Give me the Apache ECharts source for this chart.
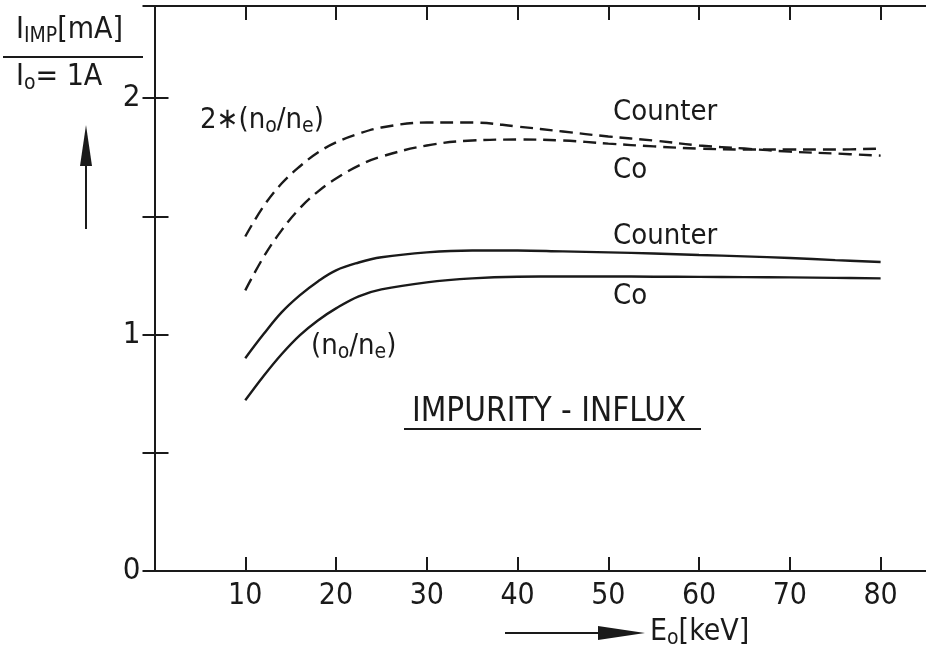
<!DOCTYPE html>
<html>
<head>
<meta charset="utf-8">
<script src="https://cdn.jsdelivr.net/npm/echarts@6/dist/echarts.min.js"></script>
<style>
  html, body { margin: 0; padding: 0; background: #fff; }
  #chart { width: 926px; height: 653px; }
</style>
</head>
<body>
<div id="chart"></div>
<script>
// energy E0 [keV]
var energies = [10, 12, 14, 16, 18, 20, 22.5, 25, 30, 35, 40, 45, 50, 55, 60, 65, 70, 75, 80];
// 2*(n0/ne), dashed
var dashCounter = [1.415, 1.542, 1.639, 1.711, 1.770, 1.813, 1.850, 1.876, 1.897, 1.897, 1.880, 1.859, 1.838, 1.821, 1.800, 1.787, 1.774, 1.766, 1.757];
var dashCo = [1.187, 1.327, 1.441, 1.534, 1.605, 1.660, 1.715, 1.753, 1.800, 1.821, 1.825, 1.821, 1.808, 1.796, 1.787, 1.783, 1.783, 1.783, 1.787];
// (n0/ne), solid
var solidCounter = [0.900, 1.001, 1.094, 1.166, 1.225, 1.272, 1.305, 1.327, 1.348, 1.356, 1.356, 1.352, 1.348, 1.343, 1.337, 1.331, 1.324, 1.315, 1.307];
var solidCo = [0.722, 0.824, 0.917, 0.997, 1.060, 1.111, 1.162, 1.191, 1.221, 1.238, 1.245, 1.246, 1.246, 1.245, 1.244, 1.243, 1.242, 1.240, 1.238];
var xTicks = [10, 20, 30, 40, 50, 60, 70, 80];
var yTickLabels = [0, 1, 2];

var FONT = "'Liberation Sans Narrow', 'DejaVu Sans Condensed', sans-serif";
var INK = '#1a1a1a';
var FS = 29;   // main text size
var SUB = 21;  // subscript size

function pairs(vals) {
    return energies.map(function (e, i) { return [e, vals[i]]; });
}

var chart = echarts.init(document.getElementById('chart'));

var subRich = { s: { fontFamily: FONT, fontSize: SUB, fill: INK, padding: [14, 0, 0, 0] } };

//文字
function label(x, y, text, size) {
    return {
        type: 'text', x: x, y: y, z: 10,
        style: { text: text, fontFamily: FONT, fontSize: size || FS, fill: INK,
            align: 'left', verticalAlign: 'middle', rich: subRich }
    };
}

var lineStyleSolid = { color: INK, width: 2.4 };
var lineStyleDash = { color: INK, width: 2.4, type: [13, 7] };

var option = {
    backgroundColor: '#fff',
    animation: false,
    grid: { left: 154.5, right: -5, top: 6, bottom: 82 },
    xAxis: [{
        type: 'value', min: 0, max: 85, interval: 10,
        axisLine: { show: true, lineStyle: { color: INK, width: 2 } },
        axisTick: { show: true, inside: true, length: 14, lineStyle: { color: INK, width: 2 },
            customValues: xTicks },
        axisLabel: { show: true, margin: 10, color: INK, fontFamily: FONT, fontSize: 30,
            customValues: xTicks },
        splitLine: { show: false }
    }, {
        type: 'value', min: 0, max: 85, position: 'top',
        axisLine: { show: true, onZero: false, lineStyle: { color: INK, width: 2 } },
        axisTick: { show: true, inside: true, length: 14, lineStyle: { color: INK, width: 2 },
            customValues: xTicks },
        axisLabel: { show: false },
        splitLine: { show: false }
    }],
    yAxis: [{
        type: 'value', min: 0, max: 2.39, interval: 0.5,
        axisLine: { show: true, lineStyle: { color: INK, width: 2 } },
        axisTick: { show: true, inside: true, length: 14, lineStyle: { color: INK, width: 2 } },
        axisLabel: { show: true, margin: 14, color: INK, fontFamily: FONT, fontSize: 31,
            showMaxLabel: false,
            formatter: function (v) { return yTickLabels.indexOf(v) >= 0 ? String(v) : ''; } },
        splitLine: { show: false }
    }, {
        type: 'value', min: 0, max: 2.39, interval: 0.5, position: 'right',
        axisLine: { show: false },
        axisTick: { show: true, inside: true, length: 12, lineStyle: { color: INK, width: 2 } },
        axisLabel: { show: false },
        splitLine: { show: false }
    }],
    series: [
        { name: 'dash Counter', type: 'line', data: pairs(dashCounter), smooth: 0.4, symbol: 'none', lineStyle: lineStyleDash },
        { name: 'dash Co', type: 'line', data: pairs(dashCo), smooth: 0.4, symbol: 'none', lineStyle: lineStyleDash },
        { name: 'Counter', type: 'line', data: pairs(solidCounter), smooth: 0.4, symbol: 'none', lineStyle: lineStyleSolid },
        { name: 'Co', type: 'line', data: pairs(solidCo), smooth: 0.4, symbol: 'none', lineStyle: lineStyleSolid }
    ],
    graphic: [
        // y轴标题
        label(16, 30, 'I{s|IMP}[mA]', 30),
        { type: 'line', z: 10, shape: { x1: 3, y1: 57, x2: 143, y2: 57 }, style: { stroke: INK, lineWidth: 2 } },
        label(16, 77, 'I{s|o}= 1A', 30),
        { type: 'line', z: 10, shape: { x1: 86, y1: 229, x2: 86, y2: 158 }, style: { stroke: INK, lineWidth: 2 } },
        { type: 'polygon', z: 10, shape: { points: [[86, 125], [80, 166], [92, 166]] }, style: { fill: INK } },
        // x轴标题
        { type: 'line', z: 10, shape: { x1: 505, y1: 633, x2: 605, y2: 633 }, style: { stroke: INK, lineWidth: 2 } },
        { type: 'polygon', z: 10, shape: { points: [[598, 626], [645, 633], [598, 640]] }, style: { fill: INK } },
        label(650, 632, 'E{s|o}[keV]', 30),
        // 曲线标注
        label(200, 120, '2\u2217(n{s|o}/n{s|e})'),
        label(613, 112, 'Counter'),
        label(613, 170, 'Co'),
        label(613, 236, 'Counter'),
        label(613, 296, 'Co'),
        label(311, 346, '(n{s|o}/n{s|e})'),
        label(412, 412, 'IMPURITY - INFLUX', 33),
        { type: 'line', z: 10, shape: { x1: 404, y1: 429, x2: 701, y2: 429 }, style: { stroke: INK, lineWidth: 2 } }
    ]
};

chart.setOption(option);
</script>
</body>
</html>
